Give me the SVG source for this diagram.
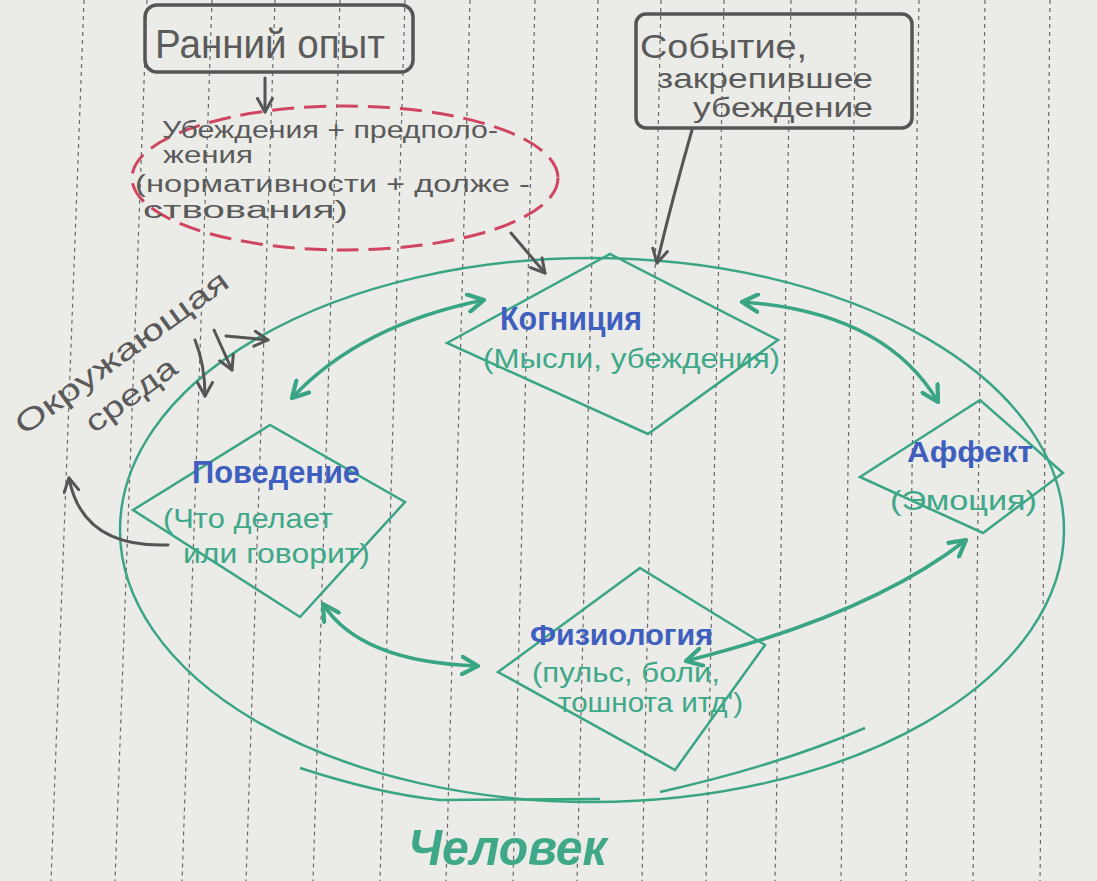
<svg xmlns="http://www.w3.org/2000/svg" width="1097" height="881" viewBox="0 0 1097 881">
<defs>
<style>
.paper{fill:#ebebe8}
.rule{stroke:#6a6a6a;stroke-width:1.2;stroke-dasharray:4 4;fill:none}
.gbox{fill:none;stroke:#555;stroke-width:3.5}
.gtxt{font-family:"Liberation Sans",sans-serif;fill:#5a5a5a}
.dia{fill:none;stroke:#3aa585;stroke-width:2.5;stroke-linejoin:miter}
.ttl{font-family:"Liberation Sans",sans-serif;font-weight:bold;fill:#3f5fbf}
.sub{font-family:"Liberation Sans",sans-serif;fill:#3fa888}
.gc{fill:none;stroke:#3aa585;stroke-width:3.5;stroke-linecap:round}
.pc{fill:none;stroke:#555;stroke-width:3;stroke-linecap:round}
.el{fill:none;stroke:#3aa585;stroke-width:2.5}
</style>
<marker id="ga" viewBox="0 0 12 12" refX="10" refY="6" markerWidth="6" markerHeight="6" orient="auto-start-reverse" markerUnits="strokeWidth">
<path d="M1,1 L10,6 L1,11" fill="none" stroke="#3aa585" stroke-width="2.4" stroke-linecap="round" stroke-linejoin="round"/>
</marker>
<marker id="pa" viewBox="0 0 12 12" refX="10" refY="6" markerWidth="6" markerHeight="6" orient="auto" markerUnits="strokeWidth">
<path d="M1,1 L10,6 L1,11" fill="none" stroke="#555" stroke-width="2" stroke-linecap="round" stroke-linejoin="round"/>
</marker>
</defs>
<rect class="paper" x="0" y="0" width="1097" height="881"/>
<g id="rules">
<line class="rule" x1="84" y1="0" x2="51" y2="881"/>
<line class="rule" x1="147" y1="0" x2="115" y2="881"/>
<line class="rule" x1="212" y1="0" x2="182" y2="881"/>
<line class="rule" x1="275" y1="0" x2="246" y2="881"/>
<line class="rule" x1="340" y1="0" x2="313" y2="881"/>
<line class="rule" x1="405" y1="0" x2="380" y2="881"/>
<line class="rule" x1="470" y1="0" x2="446" y2="881"/>
<line class="rule" x1="535" y1="0" x2="513" y2="881"/>
<line class="rule" x1="598" y1="0" x2="577" y2="881"/>
<line class="rule" x1="661" y1="0" x2="642" y2="881"/>
<line class="rule" x1="724" y1="0" x2="706" y2="881"/>
<line class="rule" x1="791" y1="0" x2="775" y2="881"/>
<line class="rule" x1="856" y1="0" x2="841" y2="881"/>
<line class="rule" x1="919" y1="0" x2="906" y2="881"/>
<line class="rule" x1="985" y1="0" x2="973" y2="881"/>
<line class="rule" x1="1050" y1="0" x2="1040" y2="881"/>
</g>

<g id="person">
<ellipse class="el" cx="592" cy="530" rx="472" ry="272"/>
<path class="el" d="M300,768 Q380,794 440,800 L600,799"/>
<path class="el" d="M660,792 Q780,765 865,728"/>
<text class="sub" x="408" y="865" font-size="50" font-style="italic" font-weight="bold" textLength="199" lengthAdjust="spacingAndGlyphs">Человек</text>
</g>

<g id="early-experience">
<rect class="gbox" x="145" y="5" width="268" height="67" rx="12"/>
<text class="gtxt" x="155" y="58" font-size="40" textLength="230" lengthAdjust="spacingAndGlyphs">Ранний опыт</text>
</g>

<g id="beliefs">
<ellipse cx="345" cy="178" rx="213" ry="72" fill="none" stroke="#d0455f" stroke-width="3" stroke-dasharray="22 10"/>
<text class="gtxt" x="162" y="138" font-size="23" textLength="336" lengthAdjust="spacingAndGlyphs">Убеждения + предполо-</text>
<text class="gtxt" x="163" y="163" font-size="23" textLength="90" lengthAdjust="spacingAndGlyphs">жения</text>
<text class="gtxt" x="135" y="192" font-size="23" textLength="395" lengthAdjust="spacingAndGlyphs">(нормативности + долже -</text>
<text class="gtxt" x="143" y="218" font-size="23" textLength="205" lengthAdjust="spacingAndGlyphs">ствования)</text>
</g>

<g id="event">
<rect class="gbox" x="636" y="14" width="276" height="114" rx="10"/>
<text class="gtxt" x="640" y="58" font-size="34" textLength="167" lengthAdjust="spacingAndGlyphs">Событие,</text>
<text class="gtxt" x="657" y="88" font-size="27" textLength="216" lengthAdjust="spacingAndGlyphs">закрепившее</text>
<text class="gtxt" x="693" y="117" font-size="27" textLength="180" lengthAdjust="spacingAndGlyphs">убеждение</text>
</g>

<g id="environment">
<text class="gtxt" x="24" y="436" font-size="30" transform="rotate(-36 24 436)" textLength="256" lengthAdjust="spacingAndGlyphs">Окружающая</text>
<text class="gtxt" x="94" y="434" font-size="30" transform="rotate(-36 94 434)" textLength="106" lengthAdjust="spacingAndGlyphs">среда</text>
</g>

<g id="cognition">
<polygon class="dia" points="447,343 610,254 778,340 648,434"/>
<text class="ttl" x="500" y="330" font-size="34" textLength="142" lengthAdjust="spacingAndGlyphs">Когниция</text>
<text class="sub" x="483" y="368" font-size="28" textLength="297" lengthAdjust="spacingAndGlyphs">(Мысли, убеждения)</text>
</g>

<g id="behavior">
<polygon class="dia" points="133,510 270,425 405,502 300,617"/>
<text class="ttl" x="192" y="483" font-size="32" textLength="168" lengthAdjust="spacingAndGlyphs">Поведение</text>
<text class="sub" x="163" y="528" font-size="28" textLength="170" lengthAdjust="spacingAndGlyphs">(Что делает</text>
<text class="sub" x="183" y="563" font-size="28" textLength="187" lengthAdjust="spacingAndGlyphs">или говорит)</text>
</g>

<g id="affect">
<polygon class="dia" points="860,477 980,400 1063,473 983,533"/>
<text class="ttl" x="907" y="462" font-size="30" textLength="126" lengthAdjust="spacingAndGlyphs">Аффект</text>
<text class="sub" x="890" y="510" font-size="28" textLength="147" lengthAdjust="spacingAndGlyphs">(Эмоция)</text>
</g>

<g id="physiology">
<polygon class="dia" points="498,672 640,568 765,645 675,770"/>
<text class="ttl" x="530" y="645" font-size="30" textLength="183" lengthAdjust="spacingAndGlyphs">Физиология</text>
<text class="sub" x="532" y="682" font-size="27" textLength="188" lengthAdjust="spacingAndGlyphs">(пульс, боли,</text>
<text class="sub" x="558" y="712" font-size="27" textLength="185" lengthAdjust="spacingAndGlyphs">тошнота итд')</text>
</g>

<g id="connectors">
<path class="pc" d="M265,78 L265,112" marker-end="url(#pa)"/>
<path class="pc" d="M511,233 L545,273" marker-end="url(#pa)"/>
<path class="pc" d="M692,130 Q672,200 657,263" marker-end="url(#pa)"/>
<path class="pc" d="M195,340 Q205,365 205,396" marker-end="url(#pa)"/>
<path class="pc" d="M214,330 L232,370" marker-end="url(#pa)"/>
<path class="pc" d="M226,336 L268,340" marker-end="url(#pa)"/>
<path class="pc" d="M168,545 Q82,548 69,478" marker-end="url(#pa)"/>
<path class="gc" d="M484,300 Q360,325 292,398" marker-start="url(#ga)" marker-end="url(#ga)"/>
<path class="gc" d="M742,302 Q885,312 938,402" marker-start="url(#ga)" marker-end="url(#ga)"/>
<path class="gc" d="M323,604 Q360,662 478,666" marker-start="url(#ga)" marker-end="url(#ga)"/>
<path class="gc" d="M686,661 Q870,615 966,540" marker-start="url(#ga)" marker-end="url(#ga)"/>
</g>
</svg>
